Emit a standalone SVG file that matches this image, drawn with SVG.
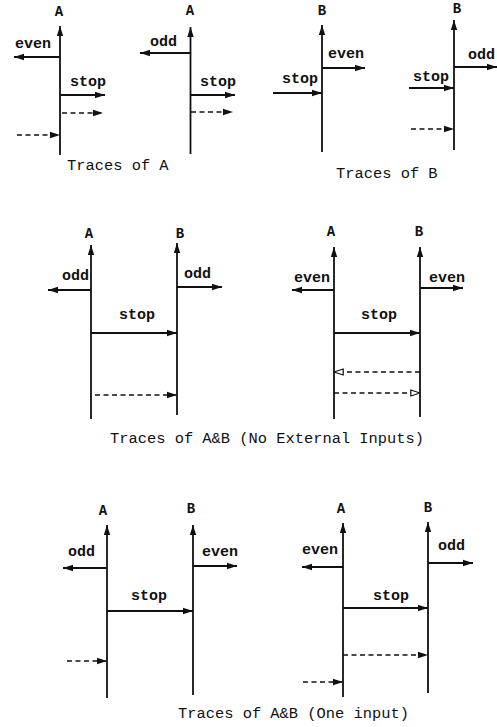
<svg xmlns="http://www.w3.org/2000/svg" width="497" height="727" viewBox="0 0 497 727">
  <style>
    .life { stroke: #111; stroke-width: 1.8; fill: none; }
    .msg { stroke: #111; stroke-width: 1.8; fill: none; }
    .dash { stroke: #111; stroke-width: 1.6; fill: none; stroke-dasharray: 5 3.5; }
    .lbl { font-family: "Liberation Mono", "Courier New", monospace; font-size: 15px; font-weight: bold; fill: #111; }
    .proc { font-family: "Liberation Mono", "Courier New", monospace; font-size: 14px; font-weight: bold; fill: #111; text-anchor: middle; }
    .cap { font-family: "Liberation Mono", "Courier New", monospace; font-size: 15.4px; fill: #111; }
  </style>
  <defs>
    <marker id="ah" markerUnits="userSpaceOnUse" markerWidth="11" markerHeight="8" refX="10" refY="4" orient="auto">
      <path d="M0,0.8 L10,4 L0,7.2 Z" fill="#111"/>
    </marker>
    <marker id="oh" markerUnits="userSpaceOnUse" markerWidth="11" markerHeight="8" refX="10" refY="4" orient="auto">
      <path d="M0.8,1 L10,4 L0.8,7 Z" fill="#fff" stroke="#111" stroke-width="1.2"/>
    </marker>
  </defs>

  <!-- Traces of A, first trace -->
  <g id="traceA1">
    <line class="life" x1="60" y1="155" x2="60" y2="26" marker-end="url(#ah)"/>
    <text class="proc" x="59" y="16">A</text>
  </g>
  <!-- Traces of A, second trace -->
  <g id="traceA2">
    <line class="life" x1="190.5" y1="154" x2="190.5" y2="27" marker-end="url(#ah)"/>
    <text class="proc" x="190" y="15">A</text>
  </g>
  <!-- Traces of B, first trace -->
  <g id="traceB1">
    <line class="life" x1="322" y1="152" x2="322" y2="25" marker-end="url(#ah)"/>
    <text class="proc" x="322" y="15">B</text>
  </g>
  <!-- Traces of B, second trace -->
  <g id="traceB2">
    <line class="life" x1="454" y1="150" x2="454" y2="20" marker-end="url(#ah)"/>
    <text class="proc" x="457" y="13">B</text>
  </g>

  <!-- A&B, no external inputs, first -->
  <g id="abNoIn1A">
    <line class="life" x1="91" y1="419" x2="91" y2="245" marker-end="url(#ah)"/>
    <text class="proc" x="89" y="238">A</text>
  </g>
  <g id="abNoIn1B">
    <line class="life" x1="177" y1="415" x2="177" y2="243" marker-end="url(#ah)"/>
    <text class="proc" x="180" y="238">B</text>
  </g>
  <!-- A&B, no external inputs, second -->
  <g id="abNoIn2A">
    <line class="life" x1="334" y1="419" x2="334" y2="247" marker-end="url(#ah)"/>
    <text class="proc" x="331" y="236">A</text>
  </g>
  <g id="abNoIn2B">
    <line class="life" x1="420" y1="417" x2="420" y2="247" marker-end="url(#ah)"/>
    <text class="proc" x="419" y="236">B</text>
  </g>

  <!-- A&B, one input, first -->
  <g id="abOne1A">
    <line class="life" x1="107" y1="698" x2="107" y2="525" marker-end="url(#ah)"/>
    <text class="proc" x="103" y="515">A</text>
  </g>
  <g id="abOne1B">
    <line class="life" x1="193" y1="695" x2="193" y2="525" marker-end="url(#ah)"/>
    <text class="proc" x="191" y="513">B</text>
  </g>
  <!-- A&B, one input, second -->
  <g id="abOne2A">
    <line class="life" x1="343" y1="697" x2="343" y2="523" marker-end="url(#ah)"/>
    <text class="proc" x="341" y="513">A</text>
  </g>
  <g id="abOne2B">
    <line class="life" x1="428" y1="693" x2="428" y2="522" marker-end="url(#ah)"/>
    <text class="proc" x="428" y="512">B</text>
  </g>

  <!-- messages -->
  <g id="connectors">
    <!-- A1 -->
    <line class="msg" x1="60" y1="57" x2="14" y2="57" marker-end="url(#ah)"/>
    <line class="msg" x1="60" y1="95" x2="105" y2="95" marker-end="url(#ah)"/>
    <line class="dash" x1="62" y1="113" x2="103" y2="113" marker-end="url(#ah)"/>
    <line class="dash" x1="17" y1="135" x2="60" y2="135" marker-end="url(#ah)"/>
    <!-- A2 -->
    <line class="msg" x1="190.5" y1="53" x2="140" y2="53" marker-end="url(#ah)"/>
    <line class="msg" x1="190.5" y1="95" x2="235" y2="95" marker-end="url(#ah)"/>
    <line class="dash" x1="191" y1="112" x2="233" y2="112" marker-end="url(#ah)"/>
    <!-- B1 -->
    <line class="msg" x1="322" y1="68" x2="365" y2="68" marker-end="url(#ah)"/>
    <line class="msg" x1="273" y1="93" x2="322" y2="93" marker-end="url(#ah)"/>
    <!-- B2 -->
    <line class="msg" x1="454" y1="67" x2="497" y2="67" marker-end="url(#ah)"/>
    <line class="msg" x1="409" y1="88" x2="454" y2="88" stroke-width="2.4" marker-end="url(#ah)"/>
    <line class="dash" x1="411" y1="129" x2="454" y2="129" marker-end="url(#ah)"/>
    <!-- A&B no inputs, first -->
    <line class="msg" x1="91" y1="290" x2="48" y2="290" marker-end="url(#ah)"/>
    <line class="msg" x1="177" y1="287" x2="222" y2="287" marker-end="url(#ah)"/>
    <line class="msg" x1="91" y1="333" x2="177" y2="333" marker-end="url(#ah)"/>
    <line class="dash" x1="95" y1="395" x2="177" y2="395" marker-end="url(#ah)"/>
    <!-- A&B no inputs, second -->
    <line class="msg" x1="334" y1="290" x2="292" y2="290" marker-end="url(#ah)"/>
    <line class="msg" x1="420" y1="288" x2="463" y2="288" marker-end="url(#ah)"/>
    <line class="msg" x1="334" y1="333" x2="420" y2="333" marker-end="url(#ah)"/>
    <line class="dash" x1="420" y1="372" x2="334" y2="372" marker-end="url(#oh)"/>
    <line class="dash" x1="334" y1="393" x2="420" y2="393" marker-end="url(#oh)"/>
    <!-- A&B one input, first -->
    <line class="msg" x1="107" y1="568" x2="63" y2="568" marker-end="url(#ah)"/>
    <line class="msg" x1="193" y1="566" x2="237" y2="566" marker-end="url(#ah)"/>
    <line class="msg" x1="107" y1="611" x2="193" y2="611" marker-end="url(#ah)"/>
    <line class="dash" x1="67" y1="661" x2="107" y2="661" marker-end="url(#ah)"/>
    <!-- A&B one input, second -->
    <line class="msg" x1="343" y1="567" x2="302" y2="567" marker-end="url(#ah)"/>
    <line class="msg" x1="428" y1="563" x2="473" y2="563" marker-end="url(#ah)"/>
    <line class="msg" x1="343" y1="608" x2="428" y2="608" marker-end="url(#ah)"/>
    <line class="dash" x1="343" y1="655" x2="428" y2="655" marker-end="url(#ah)"/>
    <line class="dash" x1="303" y1="682" x2="343" y2="682" marker-end="url(#ah)"/>

    <!-- message labels -->
    <text class="lbl" x="15" y="48">even</text>
    <text class="lbl" x="70" y="86">stop</text>
    <text class="lbl" x="150" y="46">odd</text>
    <text class="lbl" x="200" y="86">stop</text>
    <text class="lbl" x="328" y="58">even</text>
    <text class="lbl" x="282" y="83">stop</text>
    <text class="lbl" x="468" y="59">odd</text>
    <text class="lbl" x="413" y="81">stop</text>

    <text class="lbl" x="62" y="280">odd</text>
    <text class="lbl" x="184" y="278">odd</text>
    <text class="lbl" x="119" y="319">stop</text>
    <text class="lbl" x="294" y="282">even</text>
    <text class="lbl" x="429" y="282">even</text>
    <text class="lbl" x="361" y="319">stop</text>

    <text class="lbl" x="68" y="556">odd</text>
    <text class="lbl" x="202" y="556">even</text>
    <text class="lbl" x="131" y="600">stop</text>
    <text class="lbl" x="302" y="554">even</text>
    <text class="lbl" x="438" y="550">odd</text>
    <text class="lbl" x="373" y="600">stop</text>
  </g>

  <!-- captions -->
  <text class="cap" x="67" y="170">Traces of A</text>
  <text class="cap" x="336" y="178">Traces of B</text>
  <text class="cap" x="110" y="443">Traces of A&amp;B (No External Inputs)</text>
  <text class="cap" x="178" y="718">Traces of A&amp;B (One input)</text>
</svg>
